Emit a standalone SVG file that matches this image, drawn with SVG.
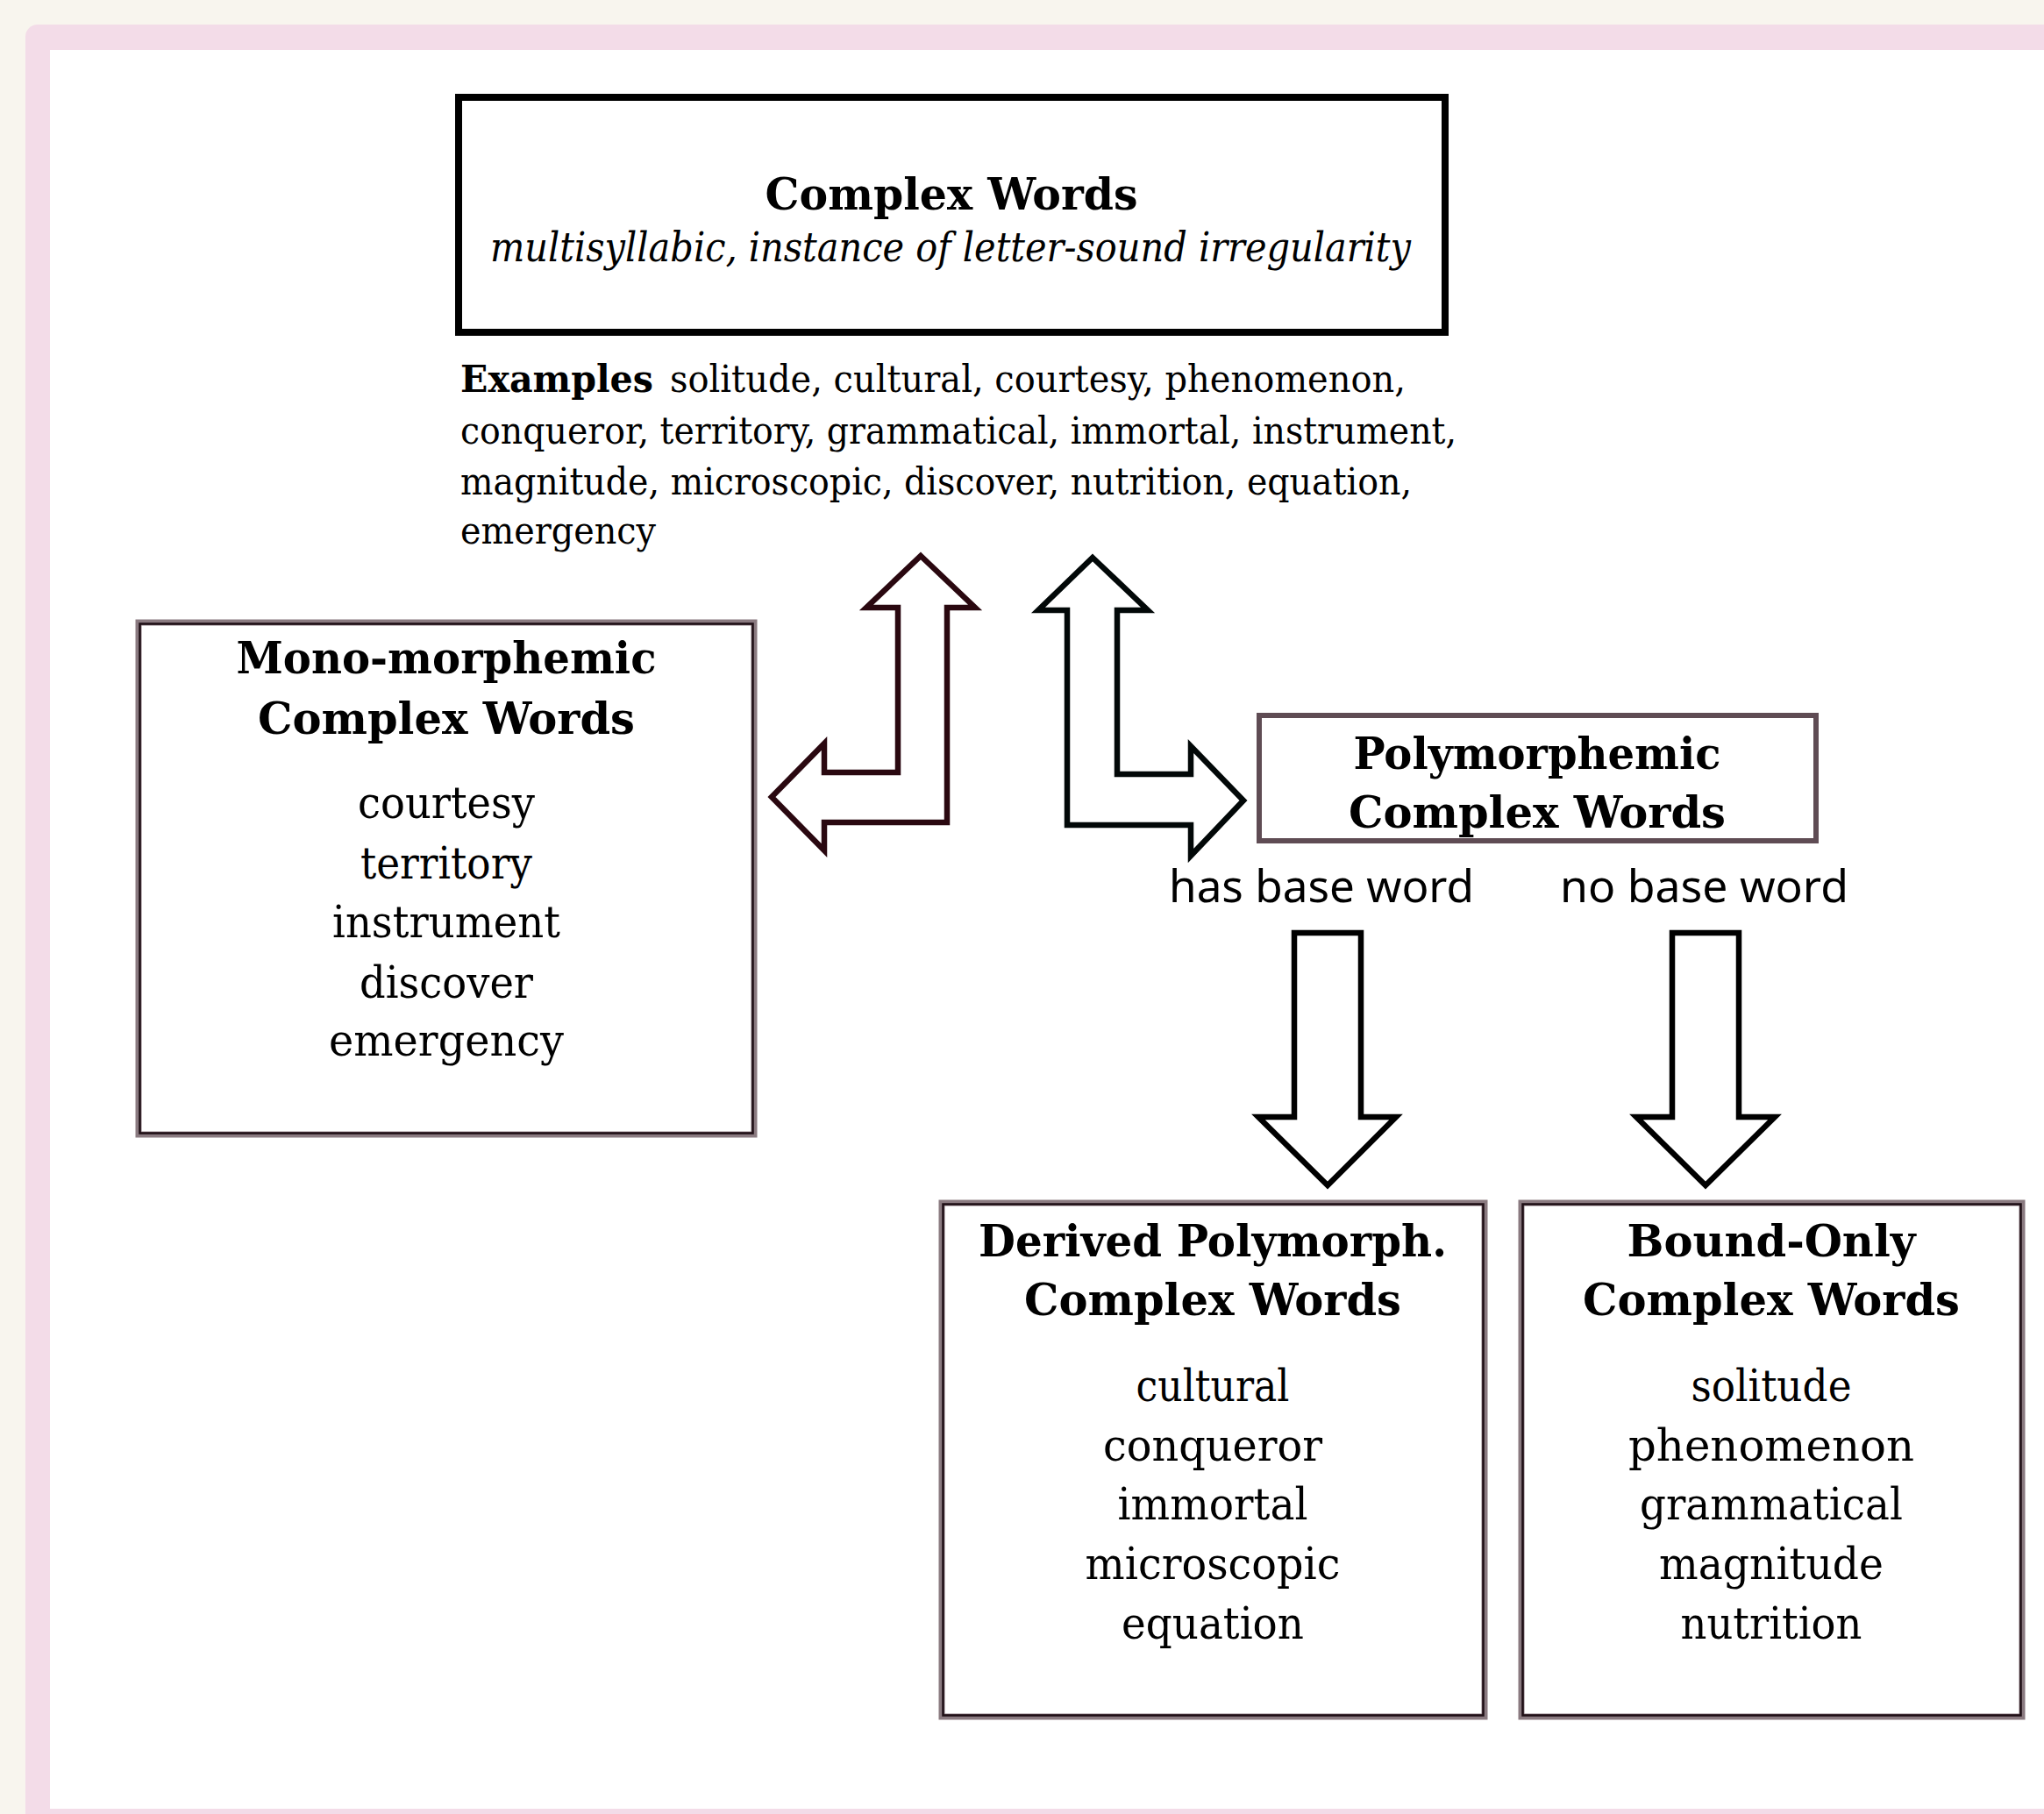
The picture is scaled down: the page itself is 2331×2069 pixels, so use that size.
<svg xmlns="http://www.w3.org/2000/svg" width="2331" height="2069" viewBox="0 0 2331 2069">
<style>
.t{font-family:"DejaVu Serif","Liberation Serif",serif;fill:#000}
.b{font-weight:bold;font-size:51px}
.i{font-style:italic;font-size:46px}
.r{font-size:50px}
.ex{font-size:42px}
.s{font-family:"Noto Sans","DejaVu Sans",sans-serif;font-size:51px;fill:#000}
.box{fill:#fff}
.arrow{fill:#fff;stroke-width:6.5;stroke-linejoin:miter;stroke-miterlimit:10}
</style>
<rect x="0" y="0" width="2331" height="2069" fill="#f8f5ee"/>
<rect x="29" y="28" width="2400" height="2100" rx="14" fill="#f3dce8"/>
<rect x="57" y="57" width="2400" height="2006" fill="#ffffff"/>

<g id="complex-words">
<rect class="box" x="523" y="111" width="1125" height="268" stroke="#000" stroke-width="8"/>
<text class="t b" x="1085" y="239" text-anchor="middle" textLength="425" lengthAdjust="spacingAndGlyphs">Complex Words</text>
<text class="t i" x="1084" y="298" text-anchor="middle" textLength="1050" lengthAdjust="spacingAndGlyphs">multisyllabic, instance of letter-sound irregularity</text>
</g>

<g id="examples">
<text class="t ex" x="525" y="447" font-weight="bold" textLength="220" lengthAdjust="spacingAndGlyphs">Examples</text>
<text class="t ex" x="764" y="447" textLength="839" lengthAdjust="spacingAndGlyphs">solitude, cultural, courtesy, phenomenon,</text>
<text class="t ex" x="525" y="506" textLength="1136" lengthAdjust="spacingAndGlyphs">conqueror, territory, grammatical, immortal, instrument,</text>
<text class="t ex" x="525" y="564" textLength="1085" lengthAdjust="spacingAndGlyphs">magnitude, microscopic, discover, nutrition, equation,</text>
<text class="t ex" x="525" y="620" textLength="223" lengthAdjust="spacingAndGlyphs">emergency</text>
</g>

<g id="mono-morphemic">
<rect class="box" x="158" y="710" width="702" height="584" stroke="#8a7a80" stroke-width="7"/>
<rect x="159.5" y="711.5" width="699" height="581" fill="none" stroke="#1e0e14" stroke-width="2.5"/>
<text class="t b" x="509" y="768" text-anchor="middle" textLength="479" lengthAdjust="spacingAndGlyphs">Mono-morphemic</text>
<text class="t b" x="509" y="837" text-anchor="middle" textLength="430" lengthAdjust="spacingAndGlyphs">Complex Words</text>
<text class="t r" x="509" y="933" text-anchor="middle" textLength="202" lengthAdjust="spacingAndGlyphs">courtesy</text>
<text class="t r" x="509" y="1002" text-anchor="middle" textLength="196" lengthAdjust="spacingAndGlyphs">territory</text>
<text class="t r" x="509" y="1069" text-anchor="middle" textLength="260" lengthAdjust="spacingAndGlyphs">instrument</text>
<text class="t r" x="509" y="1138" text-anchor="middle" textLength="198" lengthAdjust="spacingAndGlyphs">discover</text>
<text class="t r" x="509" y="1204" text-anchor="middle" textLength="268" lengthAdjust="spacingAndGlyphs">emergency</text>
</g>

<g id="polymorphemic">
<rect class="box" x="1436" y="816" width="635" height="143" stroke="#5f4c54" stroke-width="6"/>
<text class="t b" x="1753" y="877" text-anchor="middle" textLength="419" lengthAdjust="spacingAndGlyphs">Polymorphemic</text>
<text class="t b" x="1753" y="944" text-anchor="middle" textLength="430" lengthAdjust="spacingAndGlyphs">Complex Words</text>
</g>

<g id="derived">
<rect class="box" x="1074" y="1372" width="619" height="586" stroke="#8a7a80" stroke-width="7"/>
<rect x="1075.5" y="1373.5" width="616" height="583" fill="none" stroke="#1e0e14" stroke-width="2.5"/>
<text class="t b" x="1383" y="1433" text-anchor="middle" textLength="534" lengthAdjust="spacingAndGlyphs">Derived Polymorph.</text>
<text class="t b" x="1383" y="1500" text-anchor="middle" textLength="430" lengthAdjust="spacingAndGlyphs">Complex Words</text>
<text class="t r" x="1383" y="1598" text-anchor="middle" textLength="175" lengthAdjust="spacingAndGlyphs">cultural</text>
<text class="t r" x="1383" y="1666" text-anchor="middle" textLength="250" lengthAdjust="spacingAndGlyphs">conqueror</text>
<text class="t r" x="1383" y="1733" text-anchor="middle" textLength="217" lengthAdjust="spacingAndGlyphs">immortal</text>
<text class="t r" x="1383" y="1801" text-anchor="middle" textLength="291" lengthAdjust="spacingAndGlyphs">microscopic</text>
<text class="t r" x="1383" y="1869" text-anchor="middle" textLength="208" lengthAdjust="spacingAndGlyphs">equation</text>
</g>

<g id="bound-only">
<rect class="box" x="1735" y="1372" width="571" height="586" stroke="#8a7a80" stroke-width="7"/>
<rect x="1736.5" y="1373.5" width="568" height="583" fill="none" stroke="#1e0e14" stroke-width="2.5"/>
<text class="t b" x="2020" y="1433" text-anchor="middle" textLength="329" lengthAdjust="spacingAndGlyphs">Bound-Only</text>
<text class="t b" x="2020" y="1500" text-anchor="middle" textLength="430" lengthAdjust="spacingAndGlyphs">Complex Words</text>
<text class="t r" x="2020" y="1598" text-anchor="middle" textLength="183" lengthAdjust="spacingAndGlyphs">solitude</text>
<text class="t r" x="2020" y="1666" text-anchor="middle" textLength="326" lengthAdjust="spacingAndGlyphs">phenomenon</text>
<text class="t r" x="2020" y="1733" text-anchor="middle" textLength="300" lengthAdjust="spacingAndGlyphs">grammatical</text>
<text class="t r" x="2020" y="1801" text-anchor="middle" textLength="256" lengthAdjust="spacingAndGlyphs">magnitude</text>
<text class="t r" x="2020" y="1869" text-anchor="middle" textLength="207" lengthAdjust="spacingAndGlyphs">nutrition</text>
</g>

<g id="connectors">
<path class="arrow" stroke="#2a0810" d="M1050 634 L1112 693 L1080 693 L1080 938 L940 938 L940 970 L880 909 L940 848 L940 881 L1024 881 L1024 693 L988 693 Z"/>
<path class="arrow" stroke="#020808" d="M1246 636 L1309 696 L1274 696 L1274 883 L1358 883 L1358 851 L1418 913 L1358 976 L1358 941 L1217 941 L1217 696 L1184 696 Z"/>
<path class="arrow" stroke="#000" d="M1476 1064 L1552 1064 L1552 1274 L1592 1274 L1514 1352 L1435 1274 L1476 1274 Z"/>
<path class="arrow" stroke="#000" d="M1907 1064 L1983 1064 L1983 1274 L2024 1274 L1945 1352 L1866 1274 L1907 1274 Z"/>
<text class="s" x="1333" y="1029" textLength="348" lengthAdjust="spacingAndGlyphs">has base word</text>
<text class="s" x="1779" y="1029" textLength="329" lengthAdjust="spacingAndGlyphs">no base word</text>
</g>
</svg>
